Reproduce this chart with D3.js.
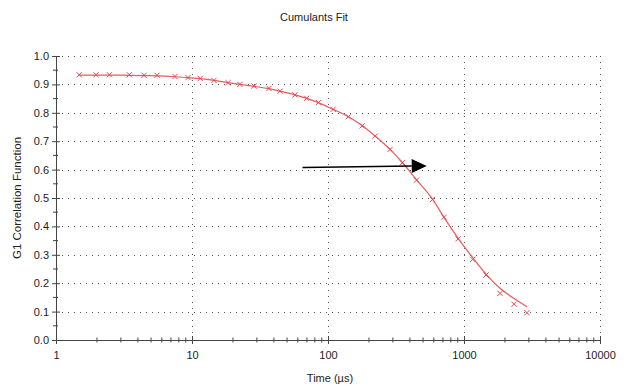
<!DOCTYPE html>
<html>
<head>
<meta charset="utf-8">
<script src="https://cdn.jsdelivr.net/npm/d3@7"></script>
<style>
  body { margin: 0; background: #fff; }
  svg text { font-family: "Liberation Sans", Arial, sans-serif; fill: #222; }
</style>
</head>
<body>
<svg id="chart" width="629" height="389"></svg>
<script>
// Measured data (time in µs, G1)
const times = [1.48, 1.97, 2.47, 3.46, 4.44, 5.53, 7.5, 9.35, 11.5, 14.5, 18.4, 22.5, 28.6, 36.8, 44.4,
  57.2, 69.7, 84.9, 109, 141, 178, 222, 286, 352, 448, 587, 713, 903, 1159, 1452, 1840, 2333, 2904];
const g1Values = [0.934, 0.934, 0.934, 0.934, 0.932, 0.932, 0.928, 0.924, 0.921, 0.914, 0.906, 0.900, 0.894, 0.886, 0.876,
  0.863, 0.851, 0.836, 0.812, 0.786, 0.754, 0.718, 0.671, 0.624, 0.563, 0.495, 0.432, 0.356, 0.284, 0.229, 0.164, 0.126, 0.096];
// Cumulants fit curve, same time points
const fitValues = [0.933, 0.933, 0.933, 0.932, 0.931, 0.930, 0.927, 0.924, 0.920, 0.914, 0.906, 0.900, 0.893, 0.885, 0.876,
  0.863, 0.851, 0.836, 0.812, 0.786, 0.755, 0.718, 0.671, 0.625, 0.564, 0.496, 0.432, 0.359, 0.290, 0.232, 0.182, 0.146, 0.117];

const xMajorTicks = [1, 10, 100, 1000, 10000];
const yMajorTicks = [0, 0.1, 0.2, 0.3, 0.4, 0.5, 0.6, 0.7, 0.8, 0.9, 1.0];

// Annotation arrow (data coords)
const arrowFrom = { t: 65, v: 0.607 };
const arrowTo = { t: 532, v: 0.613 };

const svg = d3.select("#chart");
const plotLeft = 56, plotRight = 600, plotTop = 56, plotBottom = 340;

const x = d3.scaleLog().domain([1, 10000]).range([plotLeft, plotRight]);
const y = d3.scaleLinear().domain([0, 1]).range([plotBottom, plotTop]);

// minor ticks on log axis
const xMinorTicks = [];
for (let d = 1; d < 10000; d *= 10) {
    for (let k = 2; k <= 9; k++) xMinorTicks.push(d * k);
}
const yMinorTicks = d3.range(0.05, 1, 0.1);

// Title
svg.append("text")
    .attr("x", 314).attr("y", 21)
    .attr("text-anchor", "middle")
    .style("font-size", "11px")
    .text("Cumulants Fit");

// Grid
const grid = svg.append("g")
    .attr("stroke", "#555")
    .attr("stroke-width", 1)
    .attr("stroke-dasharray", "1,5");

grid.selectAll(".hgrid")
    .data(yMajorTicks.slice(1))
    .enter().append("line")
    .attr("x1", plotLeft).attr("x2", plotRight)
    .attr("y1", d => Math.round(y(d)) + 0.5)
    .attr("y2", d => Math.round(y(d)) + 0.5);

grid.selectAll(".vgrid")
    .data(xMajorTicks.slice(1))
    .enter().append("line")
    .attr("x1", d => Math.round(x(d)) + 0.5)
    .attr("x2", d => Math.round(x(d)) + 0.5)
    .attr("y1", plotTop).attr("y2", plotBottom);

// X axis
const xAxis = svg.append("g")
    .attr("transform", `translate(0,${plotBottom})`)
    .call(d3.axisBottom(x).tickValues(xMajorTicks).tickFormat(d3.format("d")).tickSize(4).tickPadding(7));
xAxis.selectAll(".tick line").attr("y1", -4).attr("y2", 4);
xAxis.select(".domain").attr("stroke", "#444");
xAxis.selectAll(".tick line").attr("stroke", "#444");
xAxis.selectAll("text").style("font-size", "11px").attr("fill", "#222");

svg.append("g")
    .selectAll("line")
    .data(xMinorTicks)
    .enter().append("line")
    .attr("x1", d => x(d)).attr("x2", d => x(d))
    .attr("y1", plotBottom - 2.5).attr("y2", plotBottom + 2.5)
    .attr("stroke", "#444");

svg.append("text")
    .attr("x", (plotLeft + plotRight) / 2 + 2).attr("y", 382)
    .attr("text-anchor", "middle")
    .style("font-size", "11px")
    .text("Time (µs)");

// Y axis
const yAxis = svg.append("g")
    .attr("transform", `translate(${plotLeft},0)`)
    .call(d3.axisLeft(y).tickValues(yMajorTicks).tickFormat(d3.format(".1f")).tickSize(4).tickPadding(3));
yAxis.selectAll(".tick line").attr("x1", -4).attr("x2", 4).attr("stroke", "#444");
yAxis.select(".domain").attr("stroke", "#444");
yAxis.selectAll("text").style("font-size", "11px").attr("fill", "#222");

svg.append("g")
    .selectAll("line")
    .data(yMinorTicks)
    .enter().append("line")
    .attr("x1", plotLeft - 3).attr("x2", plotLeft + 2)
    .attr("y1", d => y(d)).attr("y2", d => y(d))
    .attr("stroke", "#444");

svg.append("text")
    .attr("transform", `translate(21,${(plotTop + plotBottom) / 2}) rotate(-90)`)
    .attr("text-anchor", "middle")
    .style("font-size", "11.5px")
    .text("G1 Correlation Function");

// Fit line
const fitLine = d3.line()
    .x((d, i) => x(times[i]))
    .y(d => y(d))
    .curve(d3.curveMonotoneX);

svg.append("path")
    .datum(fitValues)
    .attr("fill", "none")
    .attr("stroke", "rgb(232,92,95)")
    .attr("stroke-width", 1.2)
    .attr("d", fitLine);

// Data markers (x)
const s = 2.6;
svg.append("g")
    .selectAll("path")
    .data(g1Values)
    .enter().append("path")
    .attr("d", (d, i) => {
        const cx = x(times[i]), cy = y(d);
        return `M${cx - s},${cy - s}L${cx + s},${cy + s}M${cx - s},${cy + s}L${cx + s},${cy - s}`;
    })
    .attr("fill", "none")
    .attr("stroke", "rgb(225,75,82)")
    .attr("stroke-width", 1);

// Arrow annotation
const ax1 = x(arrowFrom.t), ay1 = y(arrowFrom.v);
const ax2 = x(arrowTo.t), ay2 = y(arrowTo.v);
const headLen = 15, headHalf = 7;
const ang = Math.atan2(ay2 - ay1, ax2 - ax1);
const bx = ax2 - headLen * Math.cos(ang), by = ay2 - headLen * Math.sin(ang);

svg.append("line")
    .attr("x1", ax1).attr("y1", ay1)
    .attr("x2", bx).attr("y2", by)
    .attr("stroke", "#000")
    .attr("stroke-width", 1.5);

svg.append("path")
    .attr("d", `M${ax2},${ay2}L${bx - headHalf * Math.sin(ang)},${by + headHalf * Math.cos(ang)}L${bx + headHalf * Math.sin(ang)},${by - headHalf * Math.cos(ang)}Z`)
    .attr("fill", "#000");
</script>
</body>
</html>
